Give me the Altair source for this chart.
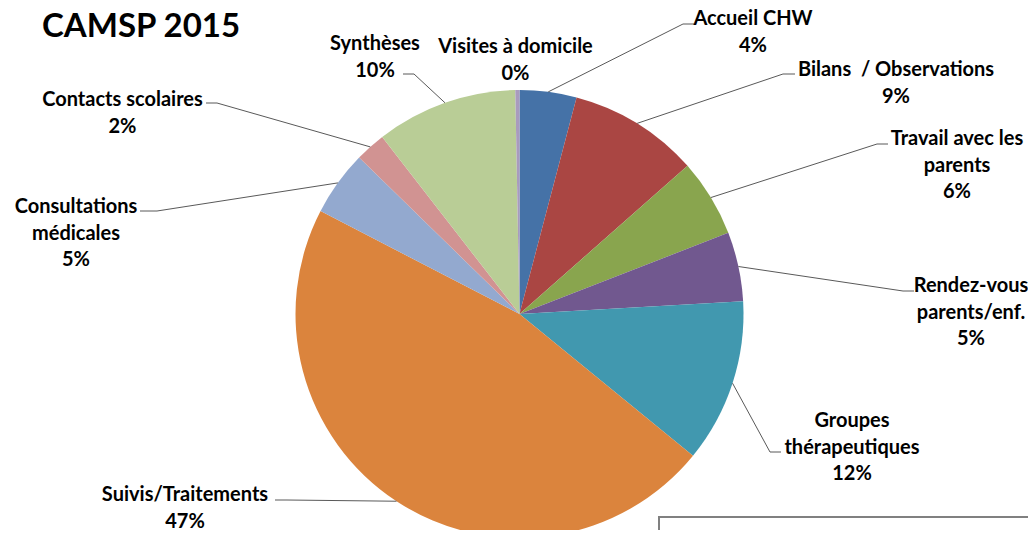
import altair as alt
import pandas as pd

# ---- data ----
names = ["Accueil CHW", "Bilans\u00a0 / Observations", "Travail avec les\nparents",
         "Rendez-vous\nparents/enf.", "Groupes\nthérapeutiques", "Suivis/Traitements",
         "Consultations\nmédicales", "Contacts scolaires", "Synthèses", "Visites à domicile"]
values = [4.1, 9.4, 5.6, 5.0, 11.8, 46.7, 4.7, 2.2, 10.2, 0.3]
colors = ["#4572A7", "#AA4643", "#89A54E", "#71588F", "#4198AF", "#DB843D",
          "#93A9CF", "#D19392", "#B9CD96", "#A99BBD"]
title_text = "CAMSP 2015"

# ---- layout (page pixels) ----
M = 8
W, H = 1020, 522
CX, CY, R = 519.5 - M, 314 - M, 224
label_x = [753, 896, 957, 971, 852, 185, 76, 122.5, 375, 515.5]
label_y = [25, 76, 145, 292, 427, 501, 213, 106, 50, 53]
elbow_x = [683, 783, 877, 903, 770, 287, 157, 217, 414, None]
elbow_y = [24, 74, 144, 291, 452, 500, 211, 103, 74, None]
end_x = [694, 795, 888, 914, 781, 275, 140, 206, 403, None]

def sh(v):
    return None if v is None else v - M

df = pd.DataFrame({
    "idx": list(range(len(names))),
    "name": names,
    "value": values,
    "lx": [sh(v) for v in label_x],
    "ly": [sh(v) for v in label_y],
    "ex": [sh(v) for v in elbow_x],
    "ey": [sh(v) for v in elbow_y],
    "tx": [sh(v) for v in end_x],
})

xs = alt.Scale(domain=[0, W], range=[0, W], nice=False, zero=False)
ys = alt.Scale(domain=[0, H], range=[0, H], nice=False, zero=False)
FONT = "Lato"

arc = alt.Chart(df).mark_arc(radius=R).encode(
    theta=alt.Theta("value:Q", stack=True),
    order=alt.Order("idx:Q"),
    color=alt.Color("name:N", scale=alt.Scale(domain=names, range=colors), legend=None),
    x=alt.value(CX),
    y=alt.value(CY),
)

base = alt.Chart(df).transform_joinaggregate(
    total="sum(value)"
).transform_window(
    cum="sum(value)", sort=[alt.SortField("idx")], frame=[None, 0]
).transform_calculate(
    mid="(datum.cum - datum.value/2) / datum.total * 2 * PI",
    px=f"{CX} + {R} * sin(datum.mid)",
    py=f"{CY} - {R} * cos(datum.mid)",
    label="datum.name + '\\n' + format(datum.value / datum.total, '.0%')",
)

leader1 = base.transform_filter("isValid(datum.ex)").mark_rule(
    color="#595959", strokeWidth=1
).encode(
    x=alt.X("px:Q", scale=xs, axis=None),
    y=alt.Y("py:Q", scale=ys, axis=None),
    x2="ex:Q",
    y2="ey:Q",
)

leader2 = base.transform_filter("isValid(datum.ex)").mark_rule(
    color="#595959", strokeWidth=1
).encode(
    x=alt.X("ex:Q", scale=xs, axis=None),
    x2="tx:Q",
    y=alt.Y("ey:Q", scale=ys, axis=None),
)

labels = base.mark_text(
    font=FONT, fontSize=20, fontWeight="bold", color="#000000",
    align="center", baseline="alphabetic", lineBreak="\n", lineHeight=26.5,
).encode(
    x=alt.X("lx:Q", scale=xs, axis=None),
    y=alt.Y("ly:Q", scale=ys, axis=None),
    text="label:N",
)

tdf = pd.DataFrame({"t": [title_text]})
title = alt.Chart(tdf).mark_text(
    font=FONT, fontSize=33, fontWeight="bold", color="#000000",
    align="left", baseline="alphabetic",
).encode(
    x=alt.value(42 - M), y=alt.value(37 - M), text="t:N"
)

box = alt.Chart(tdf).mark_rect(
    fill="#ffffff", stroke="#808080", strokeWidth=2
).encode(
    x=alt.value(659 - M), x2=alt.value(W + 20),
    y=alt.value(517 - M), y2=alt.value(H + 20),
)

chart = alt.layer(arc, leader1, leader2, labels, title, box).properties(
    width=W, height=H, padding=0,
    autosize=alt.AutoSizeParams(type="none"),
).configure_view(stroke=None)

chart.save("out.html", embed_options={"renderer": "svg", "actions": False})
